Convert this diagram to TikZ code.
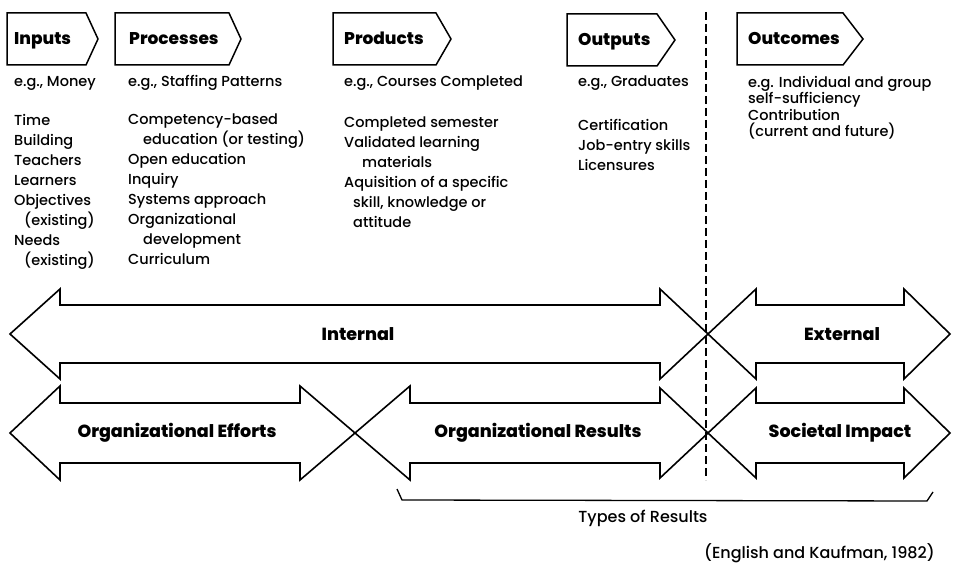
\documentclass[tikz,border=0pt]{standalone}
\usepackage{fontspec}
\setmainfont{Poppins}[UprightFont={Poppins Medium}, BoldFont={Poppins ExtraBold}]

\begin{document}
\begin{tikzpicture}[x=1pt,y=-1pt,
  txt/.style={anchor=base west, align=left, inner sep=0pt, font=\fontsize{14.5}{20}\selectfont},
  lst/.style={txt, anchor=north west},
  hdr/.style={anchor=base west, inner sep=0pt, font=\bfseries\fontsize{17}{20}\selectfont},
  lbl/.style={inner sep=0pt, font=\bfseries\fontsize{17.5}{20}\selectfont},
  tag/.style={draw, line width=1.5pt, line join=miter},
  fat/.style={draw, line width=1.6pt, line join=miter}]
\useasboundingbox (0,0) rectangle (954,564);

% header tags
\draw[tag] (7,13) -- (86,13) -- (98,39) -- (86,65) -- (7,65) -- cycle;
\draw[tag] (115,13) -- (229,13) -- (241,39) -- (229,65) -- (115,65) -- cycle;
\draw[tag] (333,13) -- (436,13) -- (451,39) -- (436,65) -- (333,65) -- cycle;
\draw[tag] (567,14) -- (657,14) -- (675,40) -- (657,66) -- (567,66) -- cycle;
\draw[tag] (737,13) -- (843,13) -- (863,39) -- (843,65) -- (737,65) -- cycle;
\node[hdr] (inputs) at (14,45) {Inputs};
\node[hdr] (processes) at (129,45) {Processes};
\node[hdr] (products) at (344,45) {Products};
\node[hdr] (outputs) at (578,46) {Outputs};
\node[hdr] (outcomes) at (748,45) {Outcomes};

% examples
\node[txt] (egin) at (14,87) {e.g., Money};
\node[txt] (egproc) at (128,87) {e.g., Staffing Patterns};
\node[txt] (egprod) at (344,87) {e.g., Courses Completed};
\node[txt] (egout) at (578,87) {e.g., Graduates};
\node[lst, font=\fontsize{14.5}{16.5}\selectfont] (egcome) at (748,76)
  {e.g. Individual and group\\self-sufficiency\\Contribution\\(current and future)};

\node[lst] (listin) at (14,114) {Time\\Building\\Teachers\\Learners\\Objectives\\
  \hspace*{10pt}(existing)\\Needs\\\hspace*{10pt}(existing)};
\node[lst] (listproc) at (128,114) {Competency-based\\\hspace*{15pt}education (or testing)\\
  Open education\\Inquiry\\Systems approach\\Organizational\\\hspace*{15pt}development\\Curriculum};
\node[lst] (listprod) at (344,117) {Completed semester\\Validated learning\\
  \hspace*{18pt}materials\\Aquisition of a specific\\\hspace*{9pt}skill, knowledge or\\
  \hspace*{9pt}attitude};
\node[lst] (listout) at (578,119) {Certification\\Job-entry skills\\Licensures};

% boundary
\draw[line width=1.5pt, dash pattern=on 8pt off 4pt] (706,12) -- (706,480);

% big arrows
\draw[fat] (10,334) -- (60,289) -- (60,305) -- (660,305) -- (660,289) -- (708,334)
  -- (660,379) -- (660,363) -- (60,363) -- (60,379) -- cycle;
\draw[fat] (708,334) -- (756,289) -- (756,305) -- (904,305) -- (904,289) -- (950,334)
  -- (904,379) -- (904,363) -- (756,363) -- (756,379) -- cycle;
\draw[fat] (10,433) -- (60,386) -- (60,403) -- (300,403) -- (300,386) -- (355,433)
  -- (300,480) -- (300,463) -- (60,463) -- (60,480) -- cycle;
\draw[fat] (355,433) -- (410,386) -- (410,403) -- (660,403) -- (660,388) -- (708,433)
  -- (660,478) -- (660,463) -- (410,463) -- (410,480) -- cycle;
\draw[fat] (708,433) -- (756,388) -- (756,403) -- (904,403) -- (904,388) -- (950,433)
  -- (904,478) -- (904,463) -- (756,463) -- (756,478) -- cycle;
\node[lbl] (internal) at (358,334) {Internal};
\node[lbl] (external) at (842,334) {External};
\node[lbl] (efforts) at (177,433) {Organizational Efforts};
\node[lbl] (results) at (538,433) {Organizational Results};
\node[lbl] (societal) at (840,433) {Societal Impact};

% results bracket
\draw[line width=1.3pt] (397,489) -- (402,500) -- (927,501) -- (933,492);
\node[txt, anchor=center, font=\fontsize{16}{18}\selectfont] (types) at (643,518) {Types of Results};
\node[txt, anchor=east, font=\fontsize{16}{18}\selectfont] (cite) at (935,553) {(English and Kaufman, 1982)};
\end{tikzpicture}
\end{document}
